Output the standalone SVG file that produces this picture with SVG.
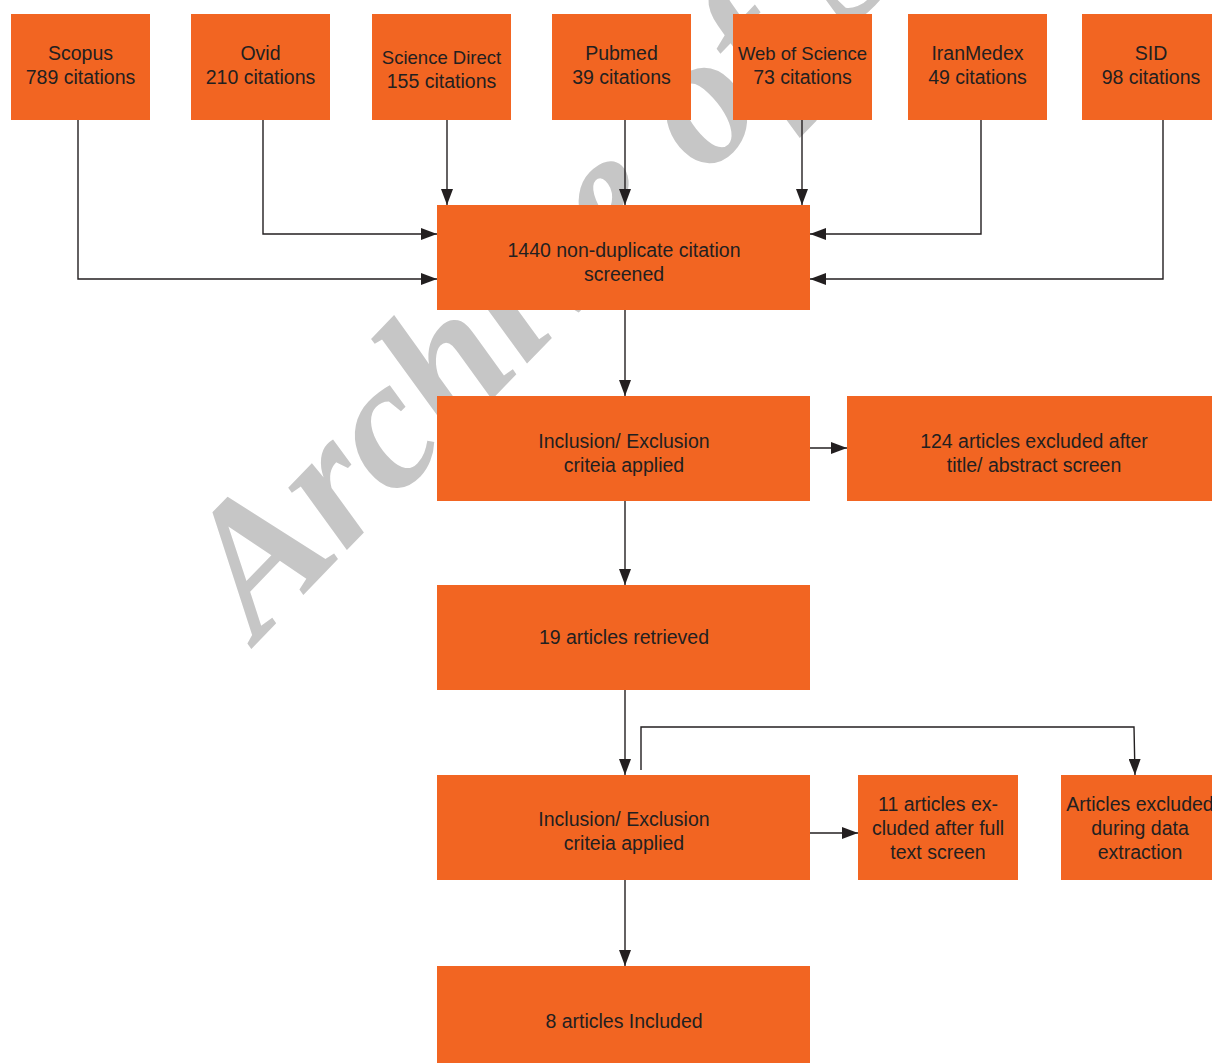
<svg xmlns="http://www.w3.org/2000/svg" width="1212" height="1063" viewBox="0 0 1212 1063">
<style>
.box{fill:#F26522;}
.t{font-family:"Liberation Sans",Arial,sans-serif;font-size:19.5px;fill:#231f20;text-anchor:middle;}
.s{font-size:18.5px;}
.c{stroke:#231f20;stroke-width:1.4;fill:none;}
.wm{font-family:"Liberation Serif","Times New Roman",serif;font-weight:bold;font-style:italic;font-size:186px;fill:#c6c6c6;}
</style>
<defs>
<marker id="ah" viewBox="0 0 16 12" refX="16" refY="6" markerWidth="16" markerHeight="12" markerUnits="userSpaceOnUse" orient="auto">
<path d="M0,0 L16,6 L0,12 Z" fill="#231f20"/>
</marker>
</defs>
<rect width="1212" height="1063" fill="#fff"/>
<text class="wm" transform="translate(258,642) rotate(-46)">Archive of SID</text>
<g id="connectors">
<polyline class="c" points="78,120 78,279 437,279" marker-end="url(#ah)"/>
<polyline class="c" points="263,120 263,234 437,234" marker-end="url(#ah)"/>
<line class="c" x1="447" y1="120" x2="447" y2="205" marker-end="url(#ah)"/>
<line class="c" x1="625" y1="120" x2="625" y2="205" marker-end="url(#ah)"/>
<line class="c" x1="802" y1="120" x2="802" y2="205" marker-end="url(#ah)"/>
<polyline class="c" points="981,120 981,234 810,234" marker-end="url(#ah)"/>
<polyline class="c" points="1163,120 1163,279 810,279" marker-end="url(#ah)"/>
<line class="c" x1="625" y1="310" x2="625" y2="396" marker-end="url(#ah)"/>
<line class="c" x1="810" y1="448" x2="847" y2="448" marker-end="url(#ah)"/>
<line class="c" x1="625" y1="501" x2="625" y2="585" marker-end="url(#ah)"/>
<line class="c" x1="625" y1="690" x2="625" y2="775" marker-end="url(#ah)"/>
<polyline class="c" points="641,770 641,727 1134,727 1135,775" marker-end="url(#ah)"/>
<line class="c" x1="810" y1="833" x2="858" y2="833" marker-end="url(#ah)"/>
<line class="c" x1="625" y1="880" x2="625" y2="966" marker-end="url(#ah)"/>
</g>
<g id="scopus"><rect class="box" x="11" y="14" width="139" height="106"/><text class="t" x="80.5" y="60">Scopus</text><text class="t" x="80.5" y="84">789 citations</text></g>
<g id="ovid"><rect class="box" x="191" y="14" width="139" height="106"/><text class="t" x="260.5" y="60">Ovid</text><text class="t" x="260.5" y="84">210 citations</text></g>
<g id="sciencedirect"><rect class="box" x="372" y="14" width="139" height="106"/><text class="t s" x="441.5" y="64">Science Direct</text><text class="t" x="441.5" y="88">155 citations</text></g>
<g id="pubmed"><rect class="box" x="552" y="14" width="139" height="106"/><text class="t" x="621.5" y="60">Pubmed</text><text class="t" x="621.5" y="84">39 citations</text></g>
<g id="wos"><rect class="box" x="733" y="14" width="139" height="106"/><text class="t s" x="802.5" y="60">Web of Science</text><text class="t" x="802.5" y="84">73 citations</text></g>
<g id="iranmedex"><rect class="box" x="908" y="14" width="139" height="106"/><text class="t" x="977.5" y="60">IranMedex</text><text class="t" x="977.5" y="84">49 citations</text></g>
<g id="sid"><rect class="box" x="1082" y="14" width="130" height="106"/><text class="t" x="1151" y="60">SID</text><text class="t" x="1151" y="84">98 citations</text></g>
<g id="screened"><rect class="box" x="437" y="205" width="373" height="105"/><text class="t" x="624" y="257">1440 non-duplicate citation</text><text class="t" x="624" y="281">screened</text></g>
<g id="incl1"><rect class="box" x="437" y="396" width="373" height="105"/><text class="t" x="624" y="448">Inclusion/ Exclusion</text><text class="t" x="624" y="472">criteia applied</text></g>
<g id="excl1"><rect class="box" x="847" y="396" width="365" height="105"/><text class="t" x="1034" y="448">124 articles excluded after</text><text class="t" x="1034" y="472">title/ abstract screen</text></g>
<g id="retrieved"><rect class="box" x="437" y="585" width="373" height="105"/><text class="t" x="624" y="644">19 articles retrieved</text></g>
<g id="incl2"><rect class="box" x="437" y="775" width="373" height="105"/><text class="t" x="624" y="826">Inclusion/ Exclusion</text><text class="t" x="624" y="850">criteia applied</text></g>
<g id="excl2"><rect class="box" x="858" y="775" width="160" height="105"/><text class="t" x="938" y="811">11 articles ex-</text><text class="t" x="938" y="835">cluded after full</text><text class="t" x="938" y="859">text screen</text></g>
<g id="excl3"><rect class="box" x="1061" y="775" width="151" height="105"/><text class="t" x="1140" y="811">Articles excluded</text><text class="t" x="1140" y="835">during data</text><text class="t" x="1140" y="859">extraction</text></g>
<g id="included"><rect class="box" x="437" y="966" width="373" height="97"/><text class="t" x="624" y="1028">8 articles Included</text></g>
</svg>
